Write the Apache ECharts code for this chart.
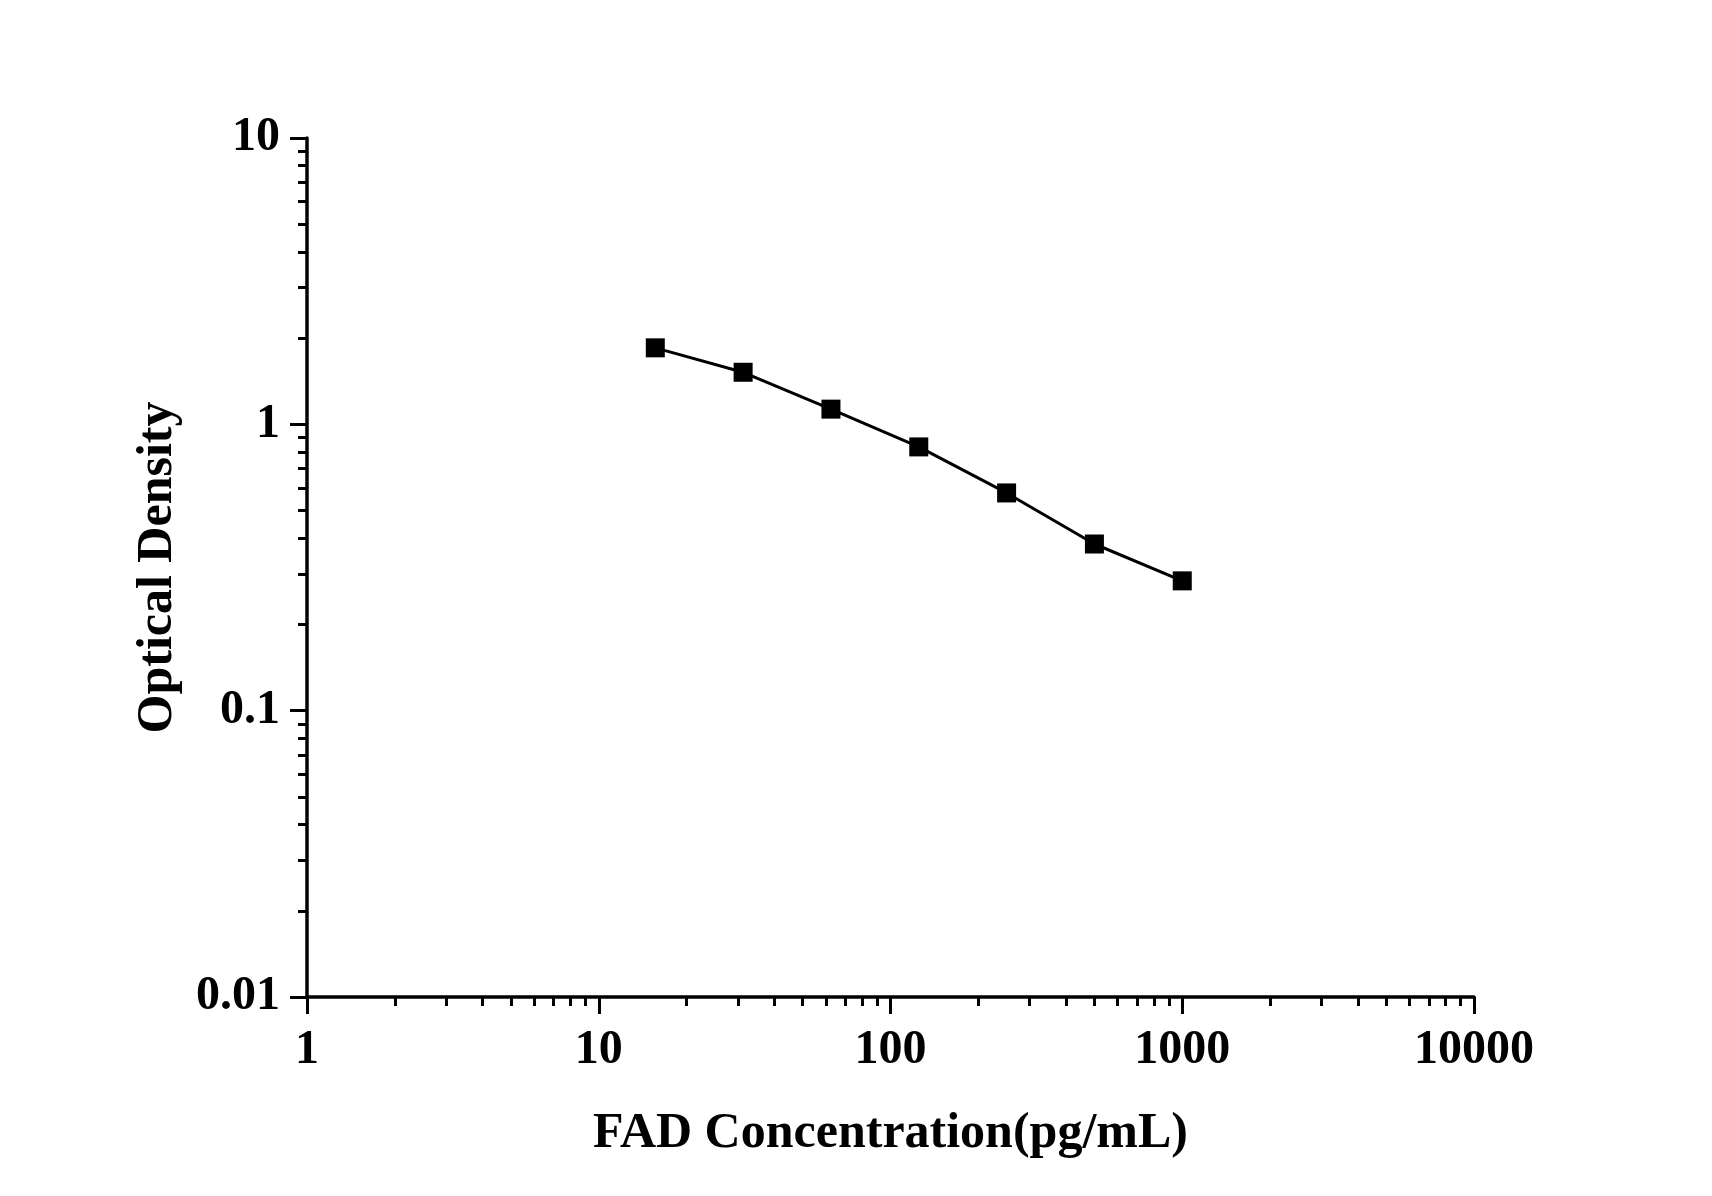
<!DOCTYPE html>
<html lang="en">
<head>
    <meta charset="UTF-8">
    <title>FAD standard curve</title>
    <script src="https://cdn.jsdelivr.net/npm/echarts@6/dist/echarts.min.js"></script>
    <style type="text/css">
        html, body { margin: 0; padding: 0; background: #fff; }
        #main { width: 1712px; height: 1196px; }
    </style>
</head>
<body>
<div id="main"></div>
<script type="application/javascript">
    // standard curve: concentration (pg/mL) vs optical density
    var concentration = [15.625, 31.25, 62.5, 125, 250, 500, 1000];
    var opticalDensity = [1.85, 1.52, 1.13, 0.834, 0.576, 0.382, 0.284];

    // minor tick positions (2..9 of every decade)
    var xMinorTicks = [2, 3, 4, 5, 6, 7, 8, 9,
        20, 30, 40, 50, 60, 70, 80, 90,
        200, 300, 400, 500, 600, 700, 800, 900,
        2000, 3000, 4000, 5000, 6000, 7000, 8000, 9000];
    var yMinorTicks = [0.02, 0.03, 0.04, 0.05, 0.06, 0.07, 0.08, 0.09,
        0.2, 0.3, 0.4, 0.5, 0.6, 0.7, 0.8, 0.9,
        2, 3, 4, 5, 6, 7, 8, 9];

    var font = "'Liberation Serif', 'Times New Roman', serif";

    var myChart = echarts.init(document.getElementById('main'));

    function fmt(v) {
        return String(+v.toPrecision(3));
    }

    var axisLine = { show: true, onZero: false, lineStyle: { color: '#000', width: 3.5 } };
    var labelStyle = { color: '#000', fontFamily: font, fontWeight: 'bold', fontSize: 48 };

    myChart.setOption({
        animation: false,
        grid: { left: 307, right: 238, top: 138, bottom: 199 },
        xAxis: [{
            type: 'log',
            logBase: 10,
            min: 1,
            max: 10000,
            name: 'FAD Concentration(pg/mL)',
            nameLocation: 'middle',
            nameGap: 112,
            nameTextStyle: { color: '#000', fontFamily: font, fontWeight: 'bold', fontSize: 50 },
            axisLine: axisLine,
            axisTick: { show: true, inside: false, length: 17, lineStyle: { color: '#000', width: 3 } },
            axisLabel: Object.assign({ margin: 30, formatter: fmt }, labelStyle),
            splitLine: { show: false }
        }, {
            type: 'log',
            logBase: 10,
            min: 1,
            max: 10000,
            position: 'bottom',
            axisLine: { show: false },
            axisTick: { show: true, inside: false, length: 9, customValues: xMinorTicks, lineStyle: { color: '#000', width: 3 } },
            axisLabel: { show: false },
            splitLine: { show: false }
        }],
        yAxis: [{
            type: 'log',
            logBase: 10,
            min: 0.01,
            max: 10,
            name: 'Optical Density',
            nameLocation: 'middle',
            nameGap: 124,
            nameTextStyle: { color: '#000', fontFamily: font, fontWeight: 'bold', fontSize: 50 },
            axisLine: axisLine,
            axisTick: { show: true, inside: false, length: 17, lineStyle: { color: '#000', width: 3 } },
            axisLabel: Object.assign({ margin: 27, formatter: fmt }, labelStyle),
            splitLine: { show: false }
        }, {
            type: 'log',
            logBase: 10,
            min: 0.01,
            max: 10,
            position: 'left',
            axisLine: { show: false },
            axisTick: { show: true, inside: false, length: 9, customValues: yMinorTicks, lineStyle: { color: '#000', width: 3 } },
            axisLabel: { show: false },
            splitLine: { show: false }
        }],
        series: [{
            type: 'line',
            data: concentration.map(function (c, i) { return [c, opticalDensity[i]]; }),
            symbol: 'rect',
            symbolSize: 19,
            itemStyle: { color: '#000' },
            lineStyle: { color: '#000', width: 3 }
        }]
    });
</script>
</body>
</html>
